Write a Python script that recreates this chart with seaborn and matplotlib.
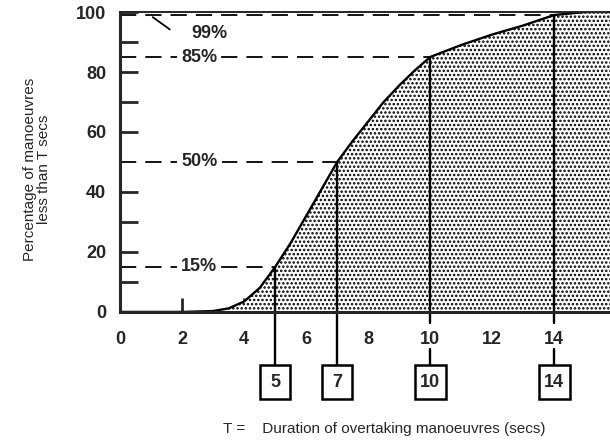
import matplotlib
matplotlib.use("Agg")
import matplotlib.pyplot as plt
from matplotlib.patches import Rectangle
import seaborn as sns

# cumulative curve
duration = [0, 2, 3, 3.5, 4, 4.5, 5, 5.5, 6, 6.5, 7, 7.5, 8, 8.5, 9, 9.5, 10, 11, 12, 13, 14, 15, 15.8]
percent = [0, 0, 0.3, 1.2, 3.5, 8, 15, 23, 32, 41, 50, 57, 63.5, 70, 75.5, 80.5, 85, 89, 92.5, 95.5, 99, 100, 100]

# marked percentiles
levels = [15, 50, 85, 99]
level_times = [5, 7, 10, 14]
level_labels = ["15%", "50%", "85%", "99%"]

x_ticks = [0, 2, 4, 6, 8, 10, 12, 14]
y_ticks = [0, 20, 40, 60, 80, 100]

sns.set_style("white")
plt.rcParams["font.family"] = ["Liberation Sans", "DejaVu Sans"]
plt.rcParams["hatch.linewidth"] = 1.2

fig = plt.figure(figsize=(6.1, 4.45), dpi=100)
ax = fig.add_axes([0.197, 0.299, 0.803, 0.674])

# dotted area under the curve
ax.fill_between(duration, percent, 0, facecolor="white", edgecolor="black",
                hatch="....", linewidth=0)
sns.lineplot(x=duration, y=percent, ax=ax, color="black", linewidth=1.7)

# dashed guide lines with labels
for p, t, lab in zip(levels, level_times, level_labels):
    ax.plot([0, t], [p, p], color="black", lw=1.3, linestyle=(0, (9, 5)))
    if lab != "99%":
        ax.text(2.55, p, lab, ha="center", va="center", fontsize=13,
                fontweight="bold",
                bbox=dict(facecolor="white", edgecolor="none", pad=3))
ax.text(2.3, 93, "99%", ha="left", va="center", fontsize=13, fontweight="bold")
ax.plot([1.05, 1.6], [98.3, 94.2], color="black", lw=1.3)

# vertical drop lines and boxed values
box_top = -17.8
box_h = 11.2
for t, p in zip(level_times, levels):
    if t in (5, 7):
        ax.plot([t, t], [p, box_top], color="black", lw=1.7, clip_on=False)
    else:
        ax.plot([t, t], [p, -3.8], color="black", lw=1.7, clip_on=False)
        ax.plot([t, t], [-12.3, box_top], color="black", lw=1.7, clip_on=False)
    w = 0.95 if t < 10 else 1.0
    ax.add_patch(Rectangle((t - w / 2, box_top - box_h), w, box_h,
                           facecolor="white", edgecolor="black", lw=1.8,
                           clip_on=False))
    ax.text(t, box_top - box_h / 2, str(t), ha="center", va="center",
            fontsize=13, fontweight="bold")

ax.set_xlim(0, 15.8)
ax.set_ylim(0, 100)
ax.set_xticks(x_ticks)
ax.set_yticks(y_ticks)
ax.set_yticks([10, 30, 70, 90], minor=True)
ax.tick_params(axis="y", which="both", direction="in", length=13, width=2,
               labelsize=13, pad=10, left=True)
ax.tick_params(axis="x", direction="in", length=10, width=2, labelsize=13,
               pad=14, bottom=True)
for lbl in ax.get_xticklabels() + ax.get_yticklabels():
    lbl.set_fontweight("bold")
ax.set_xlabel("")
ax.set_ylabel("")

for side in ["left", "bottom"]:
    ax.spines[side].set_linewidth(2.2)
ax.spines["top"].set_linewidth(1.4)
ax.spines["right"].set_visible(False)

fig.text(0.06, 0.62, "Percentage of manoeuvres\nless than T secs", rotation=90,
         ha="center", va="center", fontsize=11, linespacing=1.0)
fig.text(0.365, 0.035, "T =    Duration of overtaking manoeuvres (secs)",
         ha="left", va="center", fontsize=11)

fig.savefig("out.png", dpi=100)
